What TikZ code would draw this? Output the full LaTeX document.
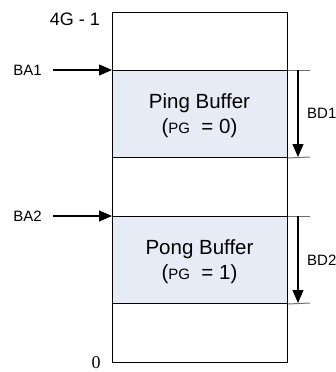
\documentclass[tikz,border=0pt]{standalone}
\usepackage{fontspec}
\setmainfont{Liberation Sans}
\newfontfamily\serifnum{Liberation Serif}
\usetikzlibrary{arrows.meta}
\definecolor{buf}{RGB}{231,235,246}
\definecolor{ext}{RGB}{110,110,110}
\tikzset{
  region/.style={draw=black, line width=1pt, fill=buf},
  lbl/.style={inner sep=0pt, font=\fontsize{15}{18}\selectfont},
  buftxt/.style={inner sep=0pt, align=center, font=\fontsize{20.5}{25}\selectfont},
  ptr/.style={line width=1.1pt, -{Triangle[length=13pt,width=11pt]}},
  extl/.style={draw=ext, line width=1pt},
}
\newcommand{\pgsmall}{{\fontsize{15}{18}\selectfont PG}}
\begin{document}
\begin{tikzpicture}[x=1pt,y=-1pt]
\useasboundingbox (0,0) rectangle (335,372);
% memory box
\draw[line width=1pt] (112,12) rectangle (287,362);
\node[region, minimum width=175pt, minimum height=87pt, anchor=north west, inner sep=0pt] (ping) at (112,70) {};
\node[region, minimum width=175pt, minimum height=87pt, anchor=north west, inner sep=0pt] (pong) at (112,216) {};
\node[buftxt] (pingt) at (199.5,116) {Ping Buffer\\(\pgsmall\ \ = 0)};
\node[buftxt] (pongt) at (199.5,262) {Pong Buffer\\(\pgsmall\ \ = 1)};
% extension lines
\coordinate (e1) at (310,70);
\coordinate (e2) at (310,157);
\coordinate (e3) at (310,216);
\coordinate (e4) at (310,303);
\draw[extl] (ping.north east) -- (e1);
\draw[extl] (ping.south east) -- (e2);
\draw[extl] (pong.north east) -- (e3);
\draw[extl] (pong.south east) -- (e4);
% dimension arrows
\coordinate (d1a) at (298,70);
\coordinate (d1b) at (298,157);
\coordinate (d2a) at (298,216);
\coordinate (d2b) at (298,303);
\draw[ptr] (d1a) -- (d1b);
\draw[ptr] (d2a) -- (d2b);
\node[lbl, anchor=west] (bd1) at (307,113) {BD1};
\node[lbl, anchor=west] (bd2) at (307,260) {BD2};
% base address pointers
\node[lbl, anchor=east] (ba1) at (42,70) {BA1};
\node[lbl, anchor=east] (ba2) at (42,216) {BA2};
\coordinate (s1) at (53,70);
\coordinate (s2) at (53,216);
\draw[ptr] (s1) -- (ping.north west);
\draw[ptr] (s2) -- (pong.north west);
% address labels
\node[inner sep=0pt, anchor=east, font=\fontsize{18}{20}\selectfont] (top) at (100,19) {4G - 1};
\node[inner sep=0pt, anchor=base, font=\serifnum\fontsize{18}{20}\selectfont] (zero) at (96,368) {0};
\end{tikzpicture}
\end{document}
